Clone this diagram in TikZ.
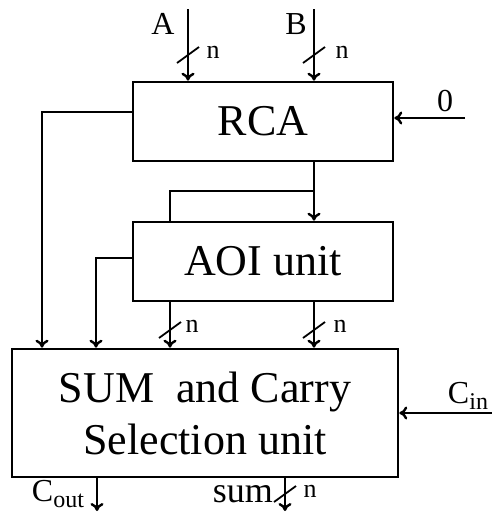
\documentclass[tikz,border=0pt]{standalone}
\usepackage{fontspec}
\setmainfont{Liberation Serif}
\usetikzlibrary{arrows.meta}

\newcommand{\lowsub}[1]{\raisebox{-0.4ex}{\fontsize{24}{24}\selectfont #1}}

\begin{document}
\begin{tikzpicture}[x=1pt, y=-1pt]
\useasboundingbox (0,0) rectangle (492,515);

\tikzset{BoxStyle/.style = {
 draw,
 line width = 2.6pt,
 inner sep = 0pt,
 align = center,
 font = \fontsize{44}{52}\selectfont} }
\tikzset{WireStyle/.style = {line width = 2.4pt} }
\tikzset{BusStyle/.style = {WireStyle, -{To[length=8pt,width=13pt]}} }
\tikzset{SlashStyle/.style = {line width = 1.8pt} }
\tikzset{LabelStyle/.style = {inner sep = 0pt, font = \fontsize{32}{32}\selectfont} }
\tikzset{WidthStyle/.style = {inner sep = 0pt, font = \fontsize{26}{26}\selectfont} }

\node[BoxStyle, minimum width=260pt, minimum height=79pt] (RCA) at (263, 121.5) {RCA};
\node[BoxStyle, minimum width=260pt, minimum height=79pt] (AOI) at (263, 261.5) {AOI unit};
\node[BoxStyle, minimum width=386pt, minimum height=128pt] (SEL) at (205, 413) {SUM\ \ and Carry\\Selection unit};

\coordinate (InA) at (188, 9);
\coordinate (InB) at (314, 9);
\coordinate (InZero) at (465, 118);
\coordinate (InCin) at (492, 413);
\coordinate (RcaL) at (133, 112);
\coordinate (RcaB) at (314, 161);
\coordinate (Branch) at (314, 191);
\coordinate (AoiL) at (133, 258);
\coordinate (OutCout) at (97, 511);
\coordinate (OutSum) at (285, 511);

% inputs
\draw[BusStyle] (InA) -- (InA |- RCA.north);
\draw[BusStyle] (InB) -- (InB |- RCA.north);
\draw[BusStyle] (InZero) -- (InZero -| RCA.east);
\draw[BusStyle] (InCin) -- (SEL.east);

% RCA outputs
\draw[BusStyle] (RcaL) -| (SEL.north -| 42, 0);
\draw[BusStyle] (RcaB) -- (RcaB |- AOI.north);
\draw[WireStyle] (Branch) -| (AOI.north -| 170, 0);

% AOI outputs
\draw[BusStyle] (AoiL) -| (SEL.north -| 96, 0);
\draw[BusStyle] (AOI.south -| 170, 0) -- (SEL.north -| 170, 0);
\draw[BusStyle] (AOI.south -| 314, 0) -- (SEL.north -| 314, 0);

% outputs
\draw[BusStyle] (SEL.south -| OutCout) -- (OutCout);
\draw[BusStyle] (SEL.south -| OutSum) -- (OutSum);

% bus width marks
\foreach \x/\y in {188/55, 314/55, 170/330, 314/330, 285/494}
 \draw[SlashStyle] (\x, \y) ++(-11, 8) -- ++(22, -16);

\node[LabelStyle] (LabA) at (163, 24) {A};
\node[LabelStyle] (LabB) at (296, 24) {B};
\node[LabelStyle] (LabZero) at (445, 101) {0};
\node[LabelStyle] (LabCin) at (468, 396) {C\lowsub{in}};
\node[LabelStyle] (LabCout) at (58, 494) {C\lowsub{out}};
\node[LabelStyle, font=\fontsize{36}{36}\selectfont] (LabSum) at (243, 494) {sum};

\node[WidthStyle] (NA) at (213, 52) {n};
\node[WidthStyle] (NB) at (342, 52) {n};
\node[WidthStyle] (NL) at (192, 326) {n};
\node[WidthStyle] (NR) at (340, 326) {n};
\node[WidthStyle] (NS) at (310, 491) {n};

\end{tikzpicture}
\end{document}
